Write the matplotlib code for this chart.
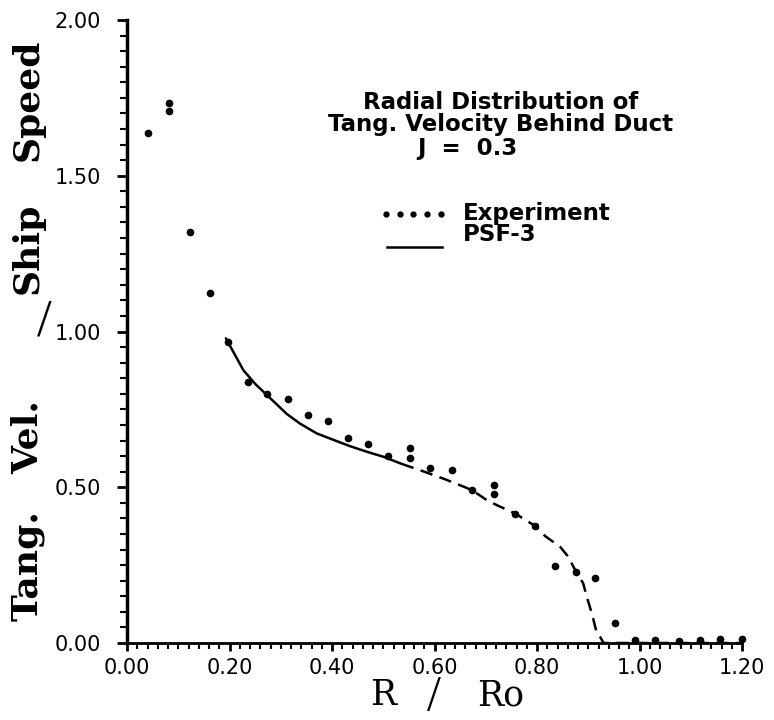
import matplotlib.pyplot as plt
import numpy as np
from matplotlib.ticker import MultipleLocator

# experiment (dots)
exp_r = [0.040, 0.081, 0.081, 0.122, 0.161, 0.197, 0.237, 0.273, 0.315, 0.354,
         0.392, 0.431, 0.470, 0.510, 0.552, 0.552, 0.591, 0.634, 0.673, 0.716,
         0.716, 0.757, 0.796, 0.835, 0.876, 0.913, 0.952, 0.991, 1.030, 1.077,
         1.118, 1.157, 1.200]
exp_v = [1.638, 1.735, 1.707, 1.318, 1.123, 0.965, 0.839, 0.799, 0.782, 0.732,
         0.714, 0.657, 0.639, 0.600, 0.625, 0.593, 0.561, 0.555, 0.491, 0.507,
         0.477, 0.414, 0.376, 0.247, 0.229, 0.210, 0.063, 0.010, 0.010, 0.008,
         0.010, 0.012, 0.012]

# PSF-3 prediction
psf_r = [0.193, 0.227, 0.250, 0.273, 0.312, 0.337, 0.370, 0.403, 0.435,
         0.468, 0.500, 0.536, 0.580, 0.620, 0.646, 0.673, 0.699, 0.721, 0.757,
         0.796, 0.816, 0.845, 0.861, 0.876, 0.890, 0.897, 0.907, 0.916, 0.923,
         0.930, 1.200]
psf_v = [0.978, 0.876, 0.832, 0.796, 0.735, 0.705, 0.673, 0.652, 0.632,
         0.614, 0.598, 0.575, 0.550, 0.526, 0.509, 0.491, 0.462, 0.443, 0.416,
         0.376, 0.343, 0.309, 0.277, 0.229, 0.192, 0.149, 0.095, 0.036, 0.020,
         0.000, 0.000]

xticks = [0.0, 0.2, 0.4, 0.6, 0.8, 1.0, 1.2]
yticks = [0.0, 0.5, 1.0, 1.5, 2.0]
ylabel_words = ["Tang.", "Vel.", "/", "Ship", "Speed"]

fig = plt.figure(figsize=(7.74, 7.2), dpi=100)
ax = fig.add_axes([127 / 774, 1 - 643 / 720, 615 / 774, 623 / 720])

r = np.array(psf_r)
v = np.array(psf_v)
solid = r <= 0.54
ax.plot(r[solid], v[solid], color="black", lw=1.8, solid_capstyle="round")
k = np.argmax(~solid) - 1
ax.plot(r[k:], v[k:], color="black", lw=1.8, linestyle=(0, (5, 3)))

ax.plot(exp_r, exp_v, "o", color="black", ms=4.5, clip_on=False)

ax.set_xlim(0, 1.2)
ax.set_ylim(0, 2.0)
ax.set_xticks(xticks)
ax.set_xticklabels(["%.2f" % t for t in xticks])
ax.set_yticks(yticks)
ax.set_yticklabels(["%.2f" % t for t in yticks])
ax.xaxis.set_minor_locator(MultipleLocator(0.02))
ax.yaxis.set_minor_locator(MultipleLocator(0.05))

for s in ["top", "right"]:
    ax.spines[s].set_visible(False)
ax.spines["left"].set_linewidth(2.5)
ax.spines["bottom"].set_linewidth(2.0)

for lab in ax.get_xticklabels() + ax.get_yticklabels():
    lab.set_fontfamily("DejaVu Sans")
    lab.set_fontsize(15)
ax.tick_params(axis="y", which="major", direction="out", length=7.5, width=2, pad=11)
ax.tick_params(axis="y", which="minor", direction="out", length=5, width=1.5)
ax.tick_params(axis="x", which="major", direction="out", length=6, width=2, pad=5)
ax.tick_params(axis="x", which="minor", direction="out", length=4, width=1.5)

# axis titles, word by word as spaced in the scan
fig.text(383 / 774, 1 - 695 / 720, "R", family="DejaVu Serif", fontsize=25,
         ha="center", va="center")
fig.text(434 / 774, 1 - 698 / 720, "/", family="Liberation Serif", fontsize=36,
         ha="center", va="center")
fig.text(501 / 774, 1 - 695 / 720, "Ro", family="DejaVu Serif", fontsize=25,
         ha="center", va="center")

ylab_y = [566, 437, 323, 248, 100]
for word, yc in zip(ylabel_words, ylab_y):
    if word == "/":
        # the slash in the scan stands upright, not turned with the words
        fig.text(44 / 774, 1 - yc / 720, word, family="Liberation Serif",
                 fontsize=38, ha="center", va="center")
    else:
        fig.text(28 / 774, 1 - yc / 720, word, family="DejaVu Serif",
                 fontsize=26, fontweight="bold", rotation=90,
                 ha="center", va="center")

ax.text(0.607, 0.868, "Radial Distribution of", transform=ax.transAxes,
        ha="center", va="center", fontsize=16.5, fontweight="bold")
ax.text(0.607, 0.832, "Tang. Velocity Behind Duct", transform=ax.transAxes,
        ha="center", va="center", fontsize=16.5, fontweight="bold")
ax.text(0.553, 0.794, "J  =  0.3", transform=ax.transAxes,
        ha="center", va="center", fontsize=16.5, fontweight="bold")

# legend drawn by hand to match the scan
ax.plot([0.505, 0.532, 0.559, 0.586, 0.613], [1.378] * 5, "o", color="black", ms=3.5)
ax.text(0.655, 1.378, "Experiment", ha="left", va="center", fontsize=16.5,
        fontweight="bold")
ax.plot([0.508, 0.615], [1.272, 1.272], color="black", lw=1.8)
ax.text(0.655, 1.31, "PSF-3", ha="left", va="center", fontsize=16.5,
        fontweight="bold")

plt.savefig("out.png", dpi=100)
